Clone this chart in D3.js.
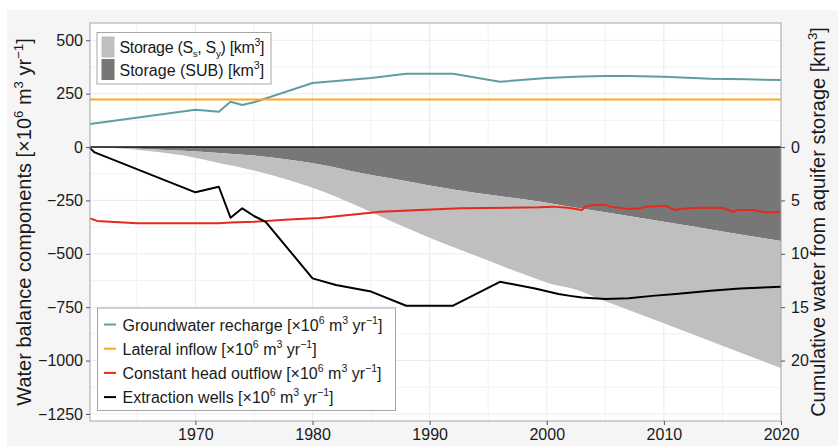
<!DOCTYPE html>
<html>
<head>
<meta charset="utf-8">
<script src="https://cdn.jsdelivr.net/npm/d3@7"></script>
<style>
	body { margin: 0; background: #fff; }
	svg { display: block; font-family: "Liberation Sans", Arial, sans-serif; }
</style>
</head>
<body>
<svg class="chart" width="838" height="446"></svg>
<script>
// values
var rechargeYears = [1961, 1970, 1972, 1973, 1974, 1975, 1980, 1985, 1988, 1992, 1996, 2000, 2003, 2005, 2007, 2010, 2014, 2017, 2020];
var rechargeVals  = [108, 175, 165, 212, 197, 210, 300, 323, 343, 343, 306, 323, 330, 333, 333, 329, 320, 317, 314];

var lateralYears = [1961, 2020];
var lateralVals  = [223, 223];

var outflowYears = [1961, 1961.6, 1965, 1972, 1973, 1975, 1978, 1980.6, 1985.8, 1992.6, 1999.4, 2000.5, 2001.8, 2003, 2003.3, 2004, 2005, 2005.4, 2006.9, 2008, 2008.5, 2009.9, 2010.2, 2010.9, 2011.4, 2012.8, 2015, 2015.9, 2016.3, 2017.6, 2018.9, 2020];
var outflowVals  = [-334, -346, -357, -357, -353, -350, -339, -332, -303, -287, -282, -279, -284, -295, -279, -271, -271, -279, -290, -287, -279, -276, -276, -295, -290, -284, -284, -303, -295, -295, -307, -303];

var wellsYears = [1961, 1961.4, 1970, 1972, 1973, 1974, 1975, 1976, 1980, 1982, 1985, 1988, 1992, 1996, 1999, 2001, 2002, 2003, 2005, 2007, 2009, 2011, 2014, 2016.5, 2020];
var wellsVals  = [-5, -25, -212, -186, -331, -287, -323, -350, -615, -646, -677, -743, -743, -631, -662, -688, -697, -705, -712, -708, -697, -688, -673, -662, -654];

// cumulative storage, km3 (SUB at the bottom, Ss/Sy stacked on it)
var storageYears = [1961, 1963, 1966, 1969, 1972, 1975, 1978, 1981, 1984, 1987, 1990, 1994, 1998, 2001, 2002, 2005, 2010, 2015, 2020];
var storageSUB   = [0, 0.05, 0.2, 0.35, 0.55, 0.8, 1.2, 1.7, 2.4, 3.0, 3.6, 4.3, 4.9, 5.4, 5.6, 6.1, 7.0, 7.9, 8.8];
var storageSsSy  = [0, 0.05, 0.17, 0.45, 0.95, 1.4, 1.9, 2.5, 3.2, 4.1, 4.9, 5.9, 7.0, 7.6, 7.6, 8.35, 9.5, 10.7, 11.9];

var yTicks = [-1250, -1000, -750, -500, -250, 0, 250, 500];
var yMinor = [-1125, -875, -625, -375, -125, 125, 375];
var xTicks = [1970, 1980, 1990, 2000, 2010, 2020];
var xMinor = [1965, 1975, 1985, 1995, 2005, 2015];
var rTicks = [0, 5, 10, 15, 20];

var panel = {left: 90, right: 781, top: 23, bottom: 421};
var yTop = 581, yBot = -1283;

var x = d3.scaleLinear().domain([1961, 2020]).range([panel.left, panel.right]);
var y = d3.scaleLinear().domain([yBot, yTop]).range([panel.bottom, panel.top]);
var yR = d3.scaleLinear().domain([-yBot / 50, -yTop / 50]).range([panel.bottom, panel.top]);

var chart = d3.select(".chart");

chart.append("rect")
	.attr("x", 7).attr("y", 10)
	.attr("width", 831).attr("height", 436)
	.attr("fill", "#f5f5f5");

chart.append("rect")
	.attr("x", panel.left).attr("y", panel.top)
	.attr("width", panel.right - panel.left).attr("height", panel.bottom - panel.top)
	.attr("fill", "#fff");

// grid
var grid = chart.append("g");
grid.selectAll(".hmin").data(yMinor).enter().append("line")
	.attr("x1", panel.left).attr("x2", panel.right)
	.attr("y1", function(d) { return y(d); }).attr("y2", function(d) { return y(d); })
	.attr("stroke", "#f2f2f2").attr("stroke-width", 1);
grid.selectAll(".vmin").data(xMinor).enter().append("line")
	.attr("y1", panel.top).attr("y2", panel.bottom)
	.attr("x1", function(d) { return x(d); }).attr("x2", function(d) { return x(d); })
	.attr("stroke", "#f2f2f2").attr("stroke-width", 1);
grid.selectAll(".hmaj").data(yTicks).enter().append("line")
	.attr("x1", panel.left).attr("x2", panel.right)
	.attr("y1", function(d) { return y(d); }).attr("y2", function(d) { return y(d); })
	.attr("stroke", "#ebebeb").attr("stroke-width", 1);
grid.selectAll(".vmaj").data(xTicks).enter().append("line")
	.attr("y1", panel.top).attr("y2", panel.bottom)
	.attr("x1", function(d) { return x(d); }).attr("x2", function(d) { return x(d); })
	.attr("stroke", "#ebebeb").attr("stroke-width", 1);

// storage areas
var storageRows = storageYears.map(function(yr, i) {
	return {year: yr, sub: storageSUB[i], sssy: storageSsSy[i]};
});
var stacked = d3.stack().keys(["sub", "sssy"])(storageRows);
var areaColors = {sub: "#777777", sssy: "#bfbfbf"};
var area = d3.area()
	.curve(d3.curveMonotoneX)
	.x(function(d) { return x(d.data.year); })
	.y0(function(d) { return yR(d[0]); })
	.y1(function(d) { return yR(d[1]); });

chart.selectAll(".storage")
	.data(stacked)
	.enter().append("path")
	.attr("d", area)
	.attr("fill", function(d) { return areaColors[d.key]; });

chart.append("line")
	.attr("x1", panel.left).attr("x2", panel.right)
	.attr("y1", y(0)).attr("y2", y(0))
	.attr("stroke", "#111").attr("stroke-width", 1.5);

// lines
var series = [
	{years: rechargeYears, vals: rechargeVals, color: "#5f9ea0"},
	{years: lateralYears, vals: lateralVals, color: "#ffa51f"},
	{years: outflowYears, vals: outflowVals, color: "#e5291c"},
	{years: wellsYears, vals: wellsVals, color: "#000000"}
];
var line = d3.line()
	.x(function(d) { return x(d[0]); })
	.y(function(d) { return y(d[1]); });

chart.selectAll(".series")
	.data(series)
	.enter().append("path")
	.attr("d", function(s) { return line(s.years.map(function(yr, i) { return [yr, s.vals[i]]; })); })
	.attr("fill", "none")
	.attr("stroke", function(s) { return s.color; })
	.attr("stroke-width", 2)
	.attr("stroke-linejoin", "round");

chart.append("rect")
	.attr("x", panel.left).attr("y", panel.top)
	.attr("width", panel.right - panel.left).attr("height", panel.bottom - panel.top)
	.attr("fill", "none").attr("stroke", "#a6a6a6").attr("stroke-width", 1);

// axes
function styleAxis(g) {
	g.select(".domain").remove();
	g.selectAll(".tick line").attr("stroke", "#555");
	g.selectAll(".tick text").attr("fill", "#1a1a1a").style("font-size", "16px")
		.style("font-family", "'Liberation Sans', Arial, sans-serif");
}

chart.append("g")
	.attr("transform", "translate(" + panel.left + ",0)")
	.call(d3.axisLeft(y).tickValues(yTicks).tickSize(4).tickPadding(3).tickFormat(d3.format("d")))
	.call(styleAxis);

chart.append("g")
	.attr("transform", "translate(" + panel.right + ",0)")
	.call(d3.axisRight(yR).tickValues(rTicks).tickSize(4).tickPadding(6).tickFormat(d3.format("d")))
	.call(styleAxis);

chart.append("g")
	.attr("transform", "translate(0," + panel.bottom + ")")
	.call(d3.axisBottom(x).tickValues(xTicks).tickSize(4).tickPadding(4).tickFormat(d3.format("d")))
	.call(styleAxis);

// rich text helper: parts are [string, "n" | "sup" | "sub"]
function rich(textSel, parts, fs) {
	var shift = 0;
	parts.forEach(function(p) {
		var target = 0, size = fs;
		if (p[1] == "sup") { target = -0.42 * fs; size = 0.66 * fs; }
		if (p[1] == "sub") { target = 0.25 * fs; size = 0.62 * fs; }
		textSel.append("tspan")
			.attr("dy", target - shift)
			.style("font-size", size + "px")
			.text(p[0]);
		shift = target;
	});
}

var unitParts = [[" [×10", "n"], ["6", "sup"], [" m", "n"], ["3", "sup"], [" yr", "n"], ["−1", "sup"], ["]", "n"]];

var ttl = chart.append("text")
	.attr("transform", "translate(31,222) rotate(-90)")
	.attr("text-anchor", "middle")
	.attr("fill", "#1a1a1a");
rich(ttl, [["Water balance components", "n"]].concat(unitParts), 20);

var ttr = chart.append("text")
	.attr("transform", "translate(825,222) rotate(-90)")
	.attr("text-anchor", "middle")
	.attr("fill", "#1a1a1a");
rich(ttr, [["Cumulative water from aquifer storage [km", "n"], ["3", "sup"], ["]", "n"]], 20);

// storage legend
var leg1 = chart.append("g");
leg1.append("rect")
	.attr("x", 97).attr("y", 32.5).attr("width", 174).attr("height", 51.5)
	.attr("fill", "#fff").attr("stroke", "#a6a6a6");
var leg1Items = [
	{color: "#bfbfbf", parts: [["Storage (S", "n"], ["s", "sub"], [", S", "n"], ["y", "sub"], [") [km", "n"], ["3", "sup"], ["]", "n"]]},
	{color: "#777777", parts: [["Storage (SUB) [km", "n"], ["3", "sup"], ["]", "n"]]}
];
leg1Items.forEach(function(it, i) {
	var cy = 47 + i * 22.5;
	leg1.append("rect")
		.attr("x", 101.5).attr("y", cy - 10.5).attr("width", 13).attr("height", 21)
		.attr("fill", it.color);
	var t = leg1.append("text")
		.attr("x", 119.5).attr("y", cy + 6)
		.attr("fill", "#1a1a1a")
		.attr("textLength", i == 0 ? 145 : null);
	rich(t, it.parts, 16);
});

// line legend
var leg2 = chart.append("g");
leg2.append("rect")
	.attr("x", 97.5).attr("y", 308).attr("width", 298).attr("height", 102.5)
	.attr("fill", "#fff").attr("stroke", "#a6a6a6");
var leg2Names = ["Groundwater recharge", "Lateral inflow", "Constant head outflow", "Extraction wells"];
leg2Names.forEach(function(name, i) {
	var cy = 324.5 + i * 24.2;
	leg2.append("line")
		.attr("x1", 104).attr("x2", 116)
		.attr("y1", cy).attr("y2", cy)
		.attr("stroke", series[i].color).attr("stroke-width", 2);
	var t = leg2.append("text")
		.attr("x", 122.5).attr("y", cy + 6)
		.attr("fill", "#1a1a1a");
	rich(t, [[name, "n"]].concat(unitParts), 16);
});
</script>
</body>
</html>
